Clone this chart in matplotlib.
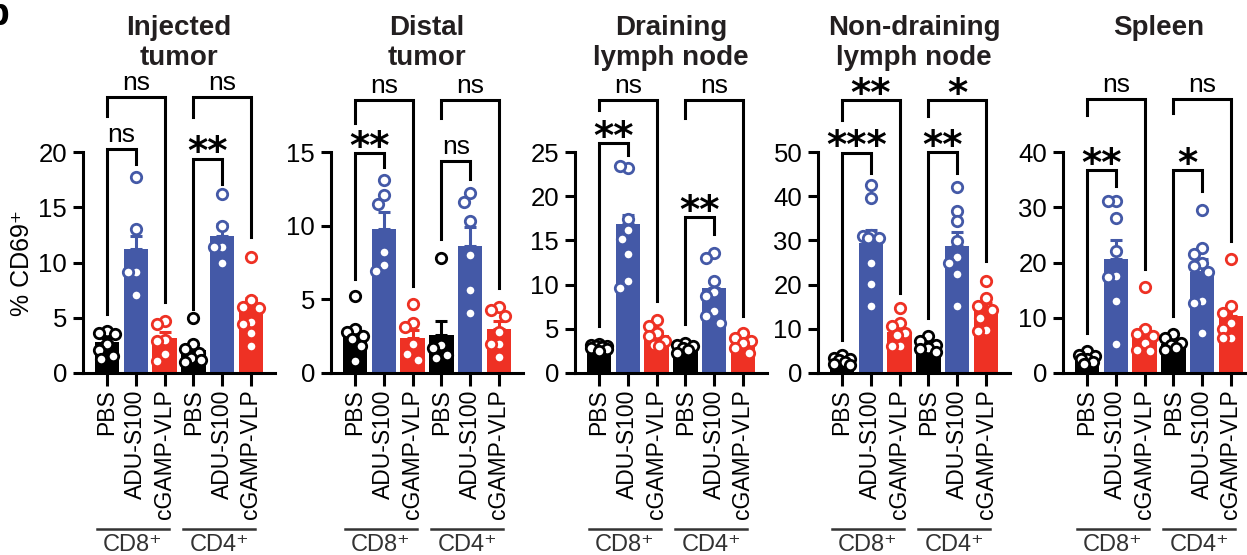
import numpy as np
import matplotlib.pyplot as plt

plt.rcParams['font.family'] = ['Liberation Sans', 'DejaVu Sans']

titles = ['Injected\ntumor', 'Distal\ntumor', 'Draining\nlymph node',
          'Non-draining\nlymph node', 'Spleen']
groups = ['PBS', 'ADU-S100', 'cGAMP-VLP', 'PBS', 'ADU-S100', 'cGAMP-VLP']
cell_types = ['CD8⁺', 'CD4⁺']
y_max = [20, 15, 25, 50, 40]
y_step = [5, 5, 5, 10, 10]

# bar heights (mean) and SEM, order: CD8 PBS, ADU, cGAMP, CD4 PBS, ADU, cGAMP
means = [
    [2.8, 11.2, 3.2, 2.1, 12.4, 6.0],
    [2.6, 9.8, 2.4, 2.6, 8.6, 3.0],
    [2.9, 16.8, 4.3, 3.0, 9.6, 3.4],
    [2.3, 29.4, 9.2, 6.0, 28.8, 14.5],
    [2.4, 20.6, 7.2, 5.2, 18.2, 10.3],
]
sems = [
    [0.4, 1.2, 0.5, 0.5, 1.1, 0.8],
    [0.5, 1.1, 0.5, 0.9, 1.3, 0.5],
    [0.1, 1.1, 0.4, 0.2, 0.7, 0.3],
    [0.3, 3.0, 1.0, 0.4, 3.2, 1.3],
    [0.3, 3.5, 1.2, 0.4, 2.4, 1.5],
]

injected_pts = [
    [3.8, 3.6, 3.5, 2.6, 2.1, 1.5, 1.3],
    [17.7, 13.0, 9.1, 9.1, 7.1],
    [4.7, 4.4, 3.0, 2.9, 1.7, 1.1],
    [5.0, 2.6, 2.2, 1.8, 1.4, 1.2, 1.0],
    [16.2, 13.3, 11.4, 11.4, 10.0],
    [10.5, 6.6, 6.0, 5.9, 4.6, 4.4, 3.6, 2.4],
]
distal_pts = [
    [5.2, 3.0, 2.8, 2.5, 2.3, 1.8, 0.8],
    [13.1, 12.1, 11.5, 8.2, 7.3, 6.9],
    [4.7, 3.4, 3.1, 2.0, 1.3, 0.9],
    [7.8, 1.9, 1.7, 1.2, 1.0],
    [12.2, 11.6, 10.3, 8.0, 5.6, 4.1],
    [4.5, 4.3, 3.9, 2.8, 2.0, 2.0, 1.1],
]
draining_pts = [
    [3.3, 3.2, 3.1, 3.0, 2.9, 2.8, 2.7, 2.5],
    [23.2, 23.4, 17.4, 16.2, 15.2, 13.5, 10.4, 9.6],
    [6.0, 5.3, 4.5, 4.2, 3.6, 3.2, 3.0],
    [3.4, 3.2, 3.0, 2.8, 2.6, 2.3],
    [13.6, 13.0, 10.4, 9.2, 8.7, 7.0, 6.4, 5.7],
    [4.5, 4.0, 3.6, 3.4, 2.8, 2.3],
]
nondraining_pts = [
    [4.1, 3.5, 3.2, 3.0, 2.5, 2.0, 1.8],
    [42.6, 39.6, 31.3, 30.9, 30.5, 30.5, 25.0, 20.2, 15.2],
    [14.7, 11.3, 10.6, 9.0, 8.7, 6.0, 6.0],
    [8.3, 7.2, 6.4, 5.7, 5.5, 4.8],
    [42.1, 36.7, 34.3, 29.9, 26.2, 25.0, 22.4, 15.1],
    [20.9, 17.0, 15.1, 14.3, 12.4, 9.8, 9.6],
]
spleen_pts = [
    [4.0, 3.3, 3.0, 2.6, 2.5, 2.0, 1.7],
    [31.2, 31.2, 28.1, 22.1, 17.6, 17.3, 13.0, 5.2],
    [15.5, 7.9, 7.0, 6.7, 5.5, 4.2, 3.9],
    [7.0, 6.4, 5.5, 5.0, 4.5, 4.2],
    [29.5, 22.7, 21.5, 20.0, 19.4, 18.2, 13.0, 12.7, 7.3],
    [20.6, 12.1, 10.9, 9.1, 8.0, 6.4, 6.4],
]
points = [injected_pts, distal_pts, draining_pts, nondraining_pts, spleen_pts]

# brackets: (left bar, right bar, top, left leg end, right leg end, label)
brackets = [
    [(0, 1, 20.3, 5.3, 18.9, 'ns'), (0, 2, 25.0, 23.3, 6.4, 'ns'),
     (3, 4, 19.4, 5.8, 17.1, '**'), (3, 5, 25.0, 23.2, 12.3, 'ns')],
    [(0, 1, 14.9, 6.4, 14.0, '**'), (0, 2, 18.5, 17.0, 5.9, 'ns'),
     (3, 4, 14.4, 9.1, 13.2, 'ns'), (3, 5, 18.5, 17.3, 5.8, 'ns')],
    [(0, 1, 26.0, 5.3, 24.7, '**'), (0, 2, 30.9, 29.8, 8.1, 'ns'),
     (3, 4, 17.6, 5.5, 15.7, '**'), (3, 5, 30.9, 28.9, 6.4, 'ns')],
    [(0, 1, 49.8, 7.5, 45.2, '***'), (0, 2, 61.7, 57.3, 18.1, '**'),
     (3, 4, 50.0, 12.4, 45.2, '**'), (3, 5, 61.7, 58.1, 25.3, '*')],
    [(0, 1, 36.7, 7.3, 33.9, '**'), (0, 2, 49.6, 46.7, 18.8, 'ns'),
     (3, 4, 36.7, 10.3, 33.0, '*'), (3, 5, 49.6, 47.0, 23.9, 'ns')],
]

colors = ['#000000', '#4459A7', '#EE3124'] * 2

W, H = 1247, 555
unit_px = 28.8
first_bar_px = [107, 355, 599, 842, 1087]
ax_bottom_px, ax_height_px = 373, 221
x_lo, x_hi = -0.85, 5.85


def swarm(vals, px_x, px_y, diam=10.5):
    cands = [0, -0.2, 0.2, -0.1, 0.1, -0.28, 0.28]
    placed = []
    offs = []
    for v in vals:
        best, best_d = 0, -1
        for c in cands:
            d = min([np.hypot((c - pc) * px_x, (v - pv) * px_y) for pc, pv in placed],
                    default=1e9)
            if d >= diam:
                best = c
                break
            if d > best_d:
                best, best_d = c, d
        placed.append((best, v))
        offs.append(best)
    return offs


fig = plt.figure(figsize=(W / 100, H / 100), dpi=100)
lw = 2.2
x = np.arange(6)

for p in range(5):
    left = first_bar_px[p] - (0 - x_lo) * unit_px
    width = (x_hi - x_lo) * unit_px
    ax = fig.add_axes([left / W, 1 - ax_bottom_px / H, width / W, ax_height_px / H])
    ax.bar(x, means[p], width=0.85, color=colors, zorder=1)
    for i in range(6):
        ax.errorbar(x[i], means[p][i], yerr=[[0], [sems[p][i]]], color=colors[i],
                    lw=lw, capsize=4.5, capthick=lw, zorder=2)
        vals = points[p][i]
        offs = swarm(vals, unit_px, ax_height_px / y_max[p])
        ax.plot(x[i] + np.array(offs), vals, 'o', ms=7.5, mfc='white',
                mec=colors[i], mew=2.0, zorder=3, clip_on=False)

    for (a, b, top, yl, yr, lab) in brackets[p]:
        ax.plot([a, a, b, b], [yl, top, top, yr], color='black', lw=lw,
                clip_on=False, zorder=4, solid_joinstyle='miter')
        if lab == 'ns':
            ax.annotate(lab, ((a + b) / 2, top), xytext=(0, 1.5),
                        textcoords='offset points', ha='center', va='bottom',
                        fontsize=19, annotation_clip=False)
        else:
            ax.annotate(lab, ((a + b) / 2, top), xytext=(0, -4),
                        textcoords='offset points', ha='center', va='baseline',
                        fontsize=28, fontweight='bold', family='DejaVu Sans',
                        annotation_clip=False)

    ax.set_xlim(x_lo, x_hi)
    ax.set_ylim(0, y_max[p])
    ax.set_yticks(np.arange(0, y_max[p] + 1, y_step[p]))
    ax.set_xticks(x)
    ax.set_xticklabels(groups, rotation=90, fontsize=16.5)
    ax.tick_params(axis='y', labelsize=18.5, width=lw, length=7, pad=4)
    ax.tick_params(axis='x', width=lw, length=9, pad=3)
    for s in ['top', 'right']:
        ax.spines[s].set_visible(False)
    for s in ['left', 'bottom']:
        ax.spines[s].set_linewidth(lw)

    tr = ax.get_xaxis_transform()
    for g in range(2):
        g0 = g * 3
        ax.plot([g0 - 0.35, g0 + 2.15], [-0.706, -0.706], color='#333333',
                lw=1.8, transform=tr, clip_on=False)
        ax.text(g0 + 0.9, -0.778, cell_types[g], transform=tr, ha='center',
                va='center', fontsize=17, color='#333333')

    ax.text(2.5, 1.0 + (ax_bottom_px - ax_height_px - 15) / ax_height_px, titles[p],
            transform=tr, ha='center', va='top', fontsize=20,
            fontweight='bold', color='#231F20', linespacing=1.2)

fig.text(22 / W, 1 - 263 / H, '% CD69⁺', rotation=90, ha='center', va='center',
         fontsize=18)
fig.text(-0.012, 1 - 25 / H, 'b', fontsize=28, fontweight='bold', va='baseline')

fig.savefig('out.png', dpi=100)
